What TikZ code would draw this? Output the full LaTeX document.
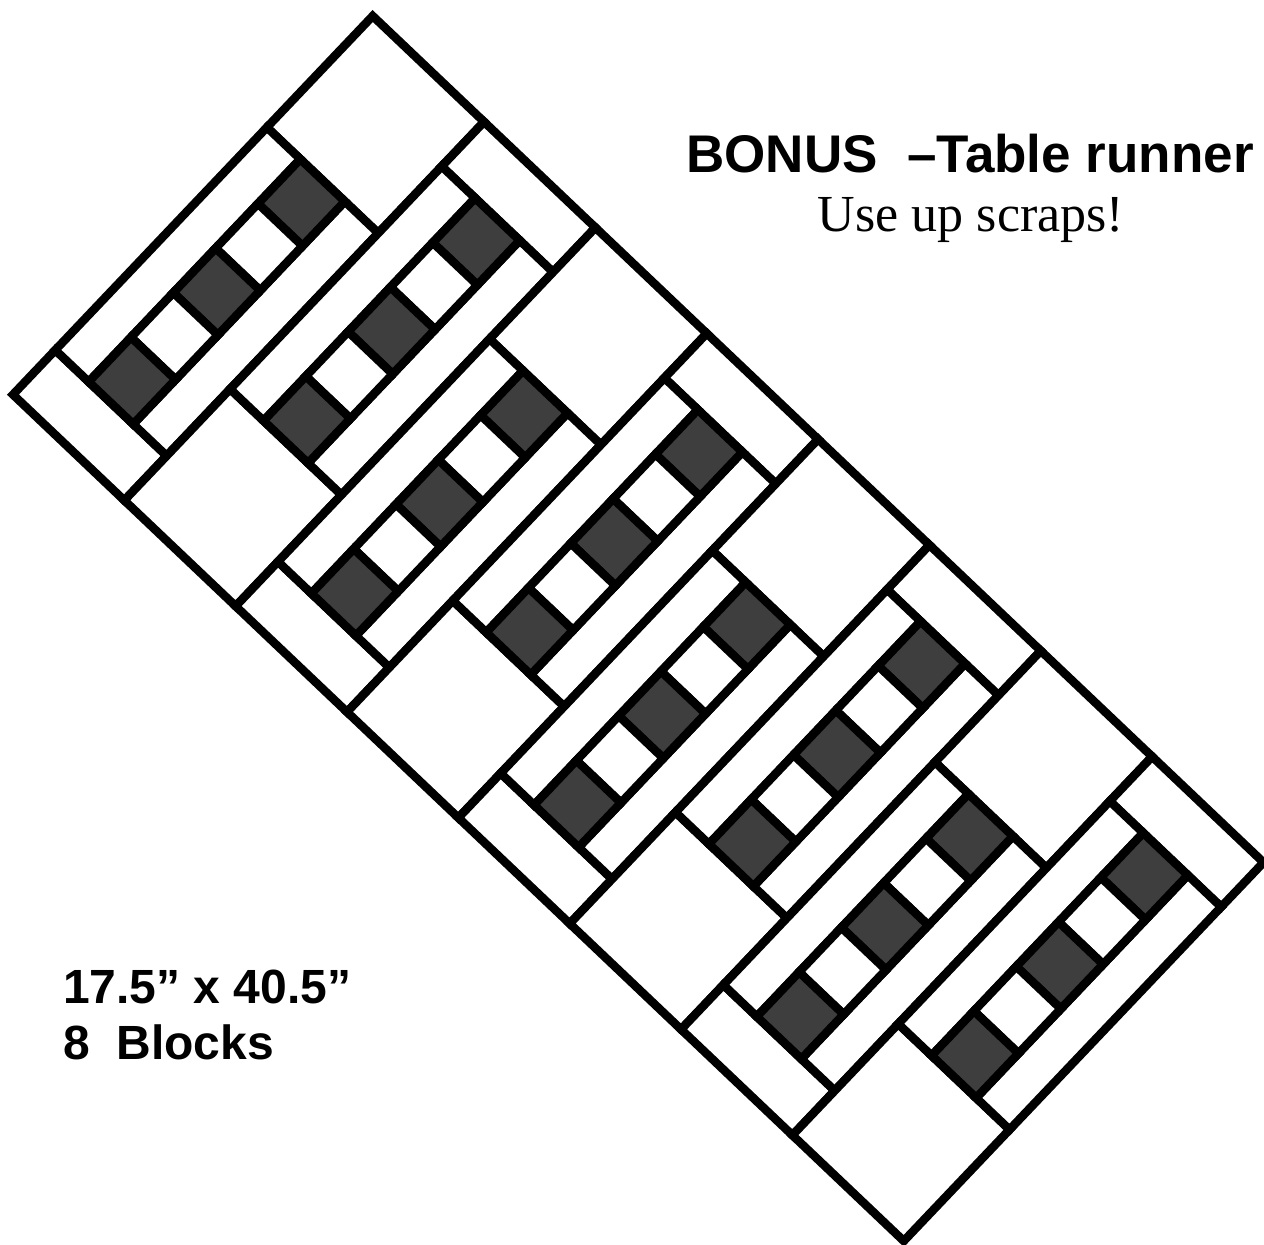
\documentclass[tikz,border=0pt]{standalone}
\usepackage{fontspec}
\setmainfont{Liberation Serif}
\newfontfamily\sansfont{Liberation Sans}
\definecolor{darksq}{RGB}{62,62,62}
\tikzset{
  piece/.style={draw=black, line width=8.5pt, fill=white, line join=miter},
  darkpiece/.style={piece, fill=darksq},
  titletext/.style={inner sep=0pt, anchor=base, font=\sansfont\bfseries\fontsize{53}{60}\selectfont},
  subtext/.style={inner sep=0pt, anchor=base, font=\fontsize{52}{60}\selectfont},
  infotext/.style={inner sep=0pt, anchor=base west, font=\sansfont\bfseries\fontsize{48}{57}\selectfont}
}
% quilt patch: #1 style, (#2,#3) corner, #4 width along runner, #5 height across
\newcommand{\quiltpatch}[5]{%
  \draw[#1] (#2,#3) -- ++(#4,0) -- ++(0,#5) -- ++(-#4,0) -- cycle;}
\begin{document}
\begin{tikzpicture}[x=1pt,y=1pt]
\useasboundingbox (0,0) rectangle (1264,-1245);
\begin{scope}[shift={(372.7,-16)}, x={(22.27pt,-21.16pt)}, y={(-21.16pt,-22.27pt)}]
  \foreach \k in {0,...,7}{
    \pgfmathsetmacro\ax{5*\k}
    \pgfmathsetmacro\axl{5*\k+1.5}
    \pgfmathsetmacro\axr{5*\k+3.5}
    \pgfmathtruncatemacro\odd{mod(\k,2)}
    \ifnum\odd=0
      \def\bz{5}
      \quiltpatch{piece}{\ax}{0}{5}{5}
      \quiltpatch{piece}{\ax}{15}{5}{2}
    \else
      \def\bz{2}
      \quiltpatch{piece}{\ax}{0}{5}{2}
      \quiltpatch{piece}{\ax}{12}{5}{5}
    \fi
    \quiltpatch{piece}{\ax}{\bz}{1.5}{10}
    \quiltpatch{piece}{\axr}{\bz}{1.5}{10}
    \foreach \j in {0,...,4}{
      \pgfmathsetmacro\by{\bz+2*\j}
      \pgfmathtruncatemacro\jodd{mod(\j,2)}
      \ifnum\jodd=0
        \quiltpatch{darkpiece}{\axl}{\by}{2}{2}
      \else
        \quiltpatch{piece}{\axl}{\by}{2}{2}
      \fi
    }
  }
\end{scope}
\node[titletext] (title) at (970,-172) {BONUS\ \ –Table runner};
\node[subtext] (sub) at (971,-231) {Use up scraps!};
\node[infotext] (dims) at (63,-1003) {17.5” x 40.5”};
\node[infotext] (blocks) at (63,-1059) {8\ \ Blocks};
\end{tikzpicture}
\end{document}
